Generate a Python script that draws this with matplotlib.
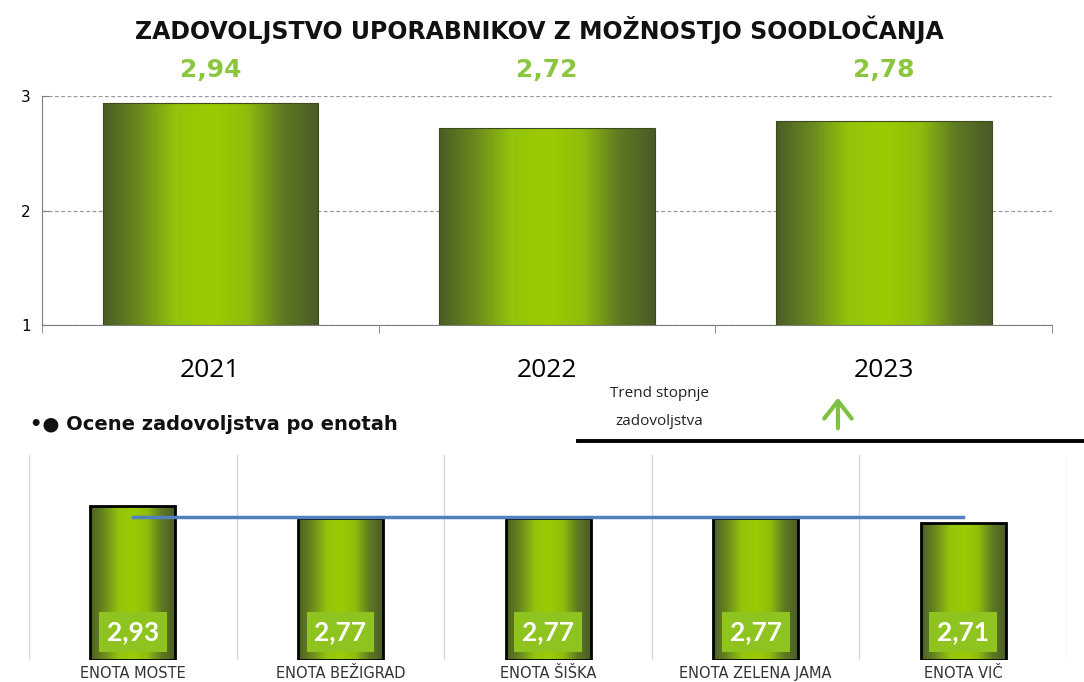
import numpy as np
import matplotlib
matplotlib.use("Agg")
import matplotlib.pyplot as plt
from matplotlib.patches import FancyArrowPatch
from matplotlib.colors import LinearSegmentedColormap

# data
years = ["2021", "2022", "2023"]
year_scores = [2.94, 2.72, 2.78]
year_labels = ["2,94", "2,72", "2,78"]

units = ["ENOTA MOSTE", "ENOTA BEŽIGRAD", "ENOTA ŠIŠKA", "ENOTA ZELENA JAMA", "ENOTA VIČ"]
unit_scores = [2.93, 2.77, 2.77, 2.77, 2.71]
unit_labels = ["2,93", "2,77", "2,77", "2,77", "2,71"]
overall = 2.78

title = "ZADOVOLJSTVO UPORABNIKOV Z MOŽNOSTJO SOODLOČANJA"

green_cmap = LinearSegmentedColormap.from_list(
    "bar", ["#4b5c25", "#6a8a1e", "#93c30b", "#9bcc00", "#8fbd0c", "#5e7a22", "#4a5a27"])
grad = np.linspace(0, 1, 256).reshape(1, -1)


def gradient_bars(ax, bars):
    for b in bars:
        x0, y0 = b.get_x(), b.get_y()
        im = ax.imshow(grad, cmap=green_cmap, aspect="auto", zorder=b.get_zorder() - 0.1,
                       extent=[x0, x0 + b.get_width(), y0, y0 + b.get_height()])
        im.set_clip_path(b)
        b.set_facecolor("none")


fig = plt.figure(figsize=(10.84, 6.82), dpi=100)

# top chart
ax = fig.add_axes([0.0387, 0.5235, 0.932, 0.3354])
x = np.arange(len(years))
base = 1
bars = ax.bar(x, np.array(year_scores) - base, width=0.64, bottom=base, color="#8fbd0c",
              edgecolor="#3d4a1e", linewidth=0.8, zorder=3)
gradient_bars(ax, bars)
ax.set_xlim(-0.5, 2.5)
ax.set_ylim(base, 3)
ax.set_yticks([1, 2, 3])
ax.set_yticklabels(["1", "2", "3"], fontsize=11)
ax.yaxis.grid(True, linestyle=(0, (3, 2)), color="#9a9a9a", linewidth=0.9)
ax.set_axisbelow(True)
for s in ["top", "right"]:
    ax.spines[s].set_visible(False)
ax.spines["left"].set_color("#7f7f7f")
ax.spines["bottom"].set_color("#7f7f7f")
ax.tick_params(axis="y", length=5, color="#7f7f7f", pad=8, direction="in")
ax.set_xticks(x)
ax.set_xticklabels(years, fontsize=19, family="Open Sans")
ax.tick_params(axis="x", which="major", length=0, pad=24)
ax.set_xticks(np.arange(-0.5, 3, 1), minor=True)
ax.tick_params(axis="x", which="minor", length=6, color="#7f7f7f", direction="out")
for i, lab in enumerate(year_labels):
    ax.text(x[i], 3.23, lab, ha="center", va="center", fontsize=18, fontweight="bold",
            color="#8cc63e", clip_on=False)
fig.text(0.498, 0.957, title, ha="center", va="center", fontsize=17,
         fontweight="bold", family="DejaVu Sans", color="#111111")

# middle texts
fig.text(0.028, 0.377, "•● Ocene zadovoljstva po enotah", ha="left", va="center",
         fontsize=14, fontweight="bold", color="#111111")
fig.text(0.608, 0.402, "Trend stopnje\nzadovoljstva", ha="center", va="center",
         fontsize=11, family="Open Sans", linespacing=2.2, color="#222222")
fig.add_artist(plt.Line2D([0.533, 1.0], [0.354, 0.354], color="black", linewidth=2.8))
fig.add_artist(FancyArrowPatch(
    (0.773, 0.368), (0.773, 0.421), arrowstyle="->,head_length=0.7,head_width=0.55",
    color="#7dc242", linewidth=3, mutation_scale=18))

# bottom chart
ax2 = fig.add_axes([0.0268, 0.032, 0.9576, 0.301])
xu = np.arange(len(units))
base2 = 0.84
bars2 = ax2.bar(xu, np.array(unit_scores) - base2, bottom=base2, width=0.41,
                color="#8fbd0c", edgecolor="black", linewidth=2, zorder=3)
gradient_bars(ax2, bars2)
ax2.plot(xu, [overall] * len(units), color="#4f81bd", linewidth=2.5, zorder=5)
for i, lab in enumerate(unit_labels):
    ax2.text(xu[i], 1.22, lab, ha="center", va="center", fontsize=19, fontweight="bold",
             family="Lato", color="white", zorder=6,
             bbox=dict(boxstyle="square,pad=0.3", facecolor="#8fc31f", edgecolor="none"))
ax2.set_xlim(-0.5, 4.5)
ax2.set_ylim(base2, 3.63)
ax2.set_yticks([])
ax2.set_xticks(xu)
ax2.set_xticklabels(units, fontsize=10.5, color="#333333", family="DejaVu Sans")
ax2.tick_params(axis="x", which="major", length=0, pad=4)
ax2.set_xticks(np.arange(-0.5, 5, 1), minor=True)
ax2.tick_params(axis="x", which="minor", length=0)
ax2.xaxis.grid(True, which="minor", color="#d9d9d9", linewidth=1)
ax2.set_axisbelow(True)
for s in ax2.spines.values():
    s.set_visible(False)

fig.savefig("out.png", dpi=100)
